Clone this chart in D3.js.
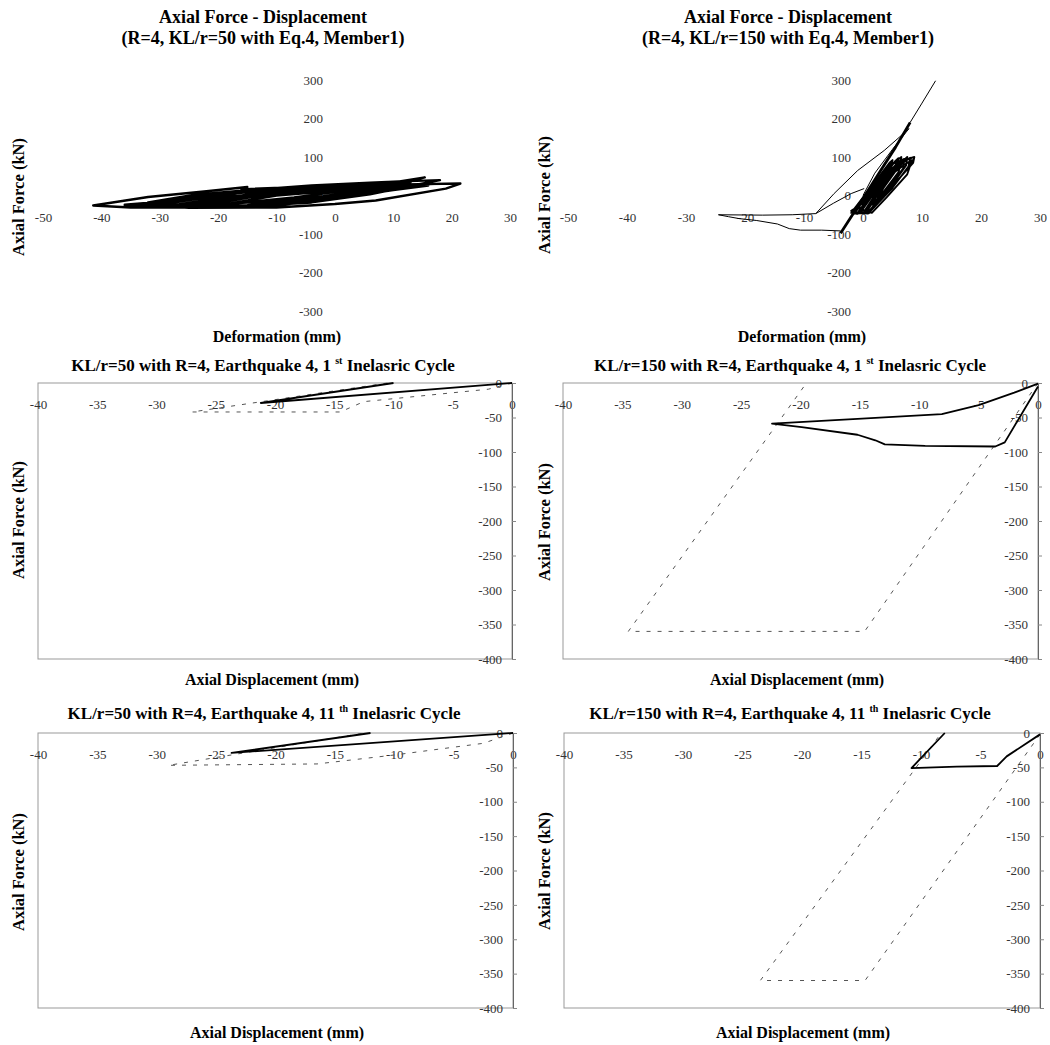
<!DOCTYPE html>
<html>
<head>
<meta charset="utf-8">
<script src="https://cdn.jsdelivr.net/npm/d3@7"></script>
<style>
  body { margin: 0; background: #fff; }
  text { font-family: "Liberation Serif", "Times New Roman", serif; }
</style>
</head>
<body>
<script>
const svgW = 1050;
const svgH = 1045;

// tick labels
const xTicksAll = [-50, -40, -30, -20, -10, 0, 10, 20, 30];
const yTicksAll = [-300, -200, -100, 0, 100, 200, 300];
const xTicksCycle = [-40, -35, -30, -25, -20, -15, -10, -5, 0];
const yTicksCycle = [-400, -350, -300, -250, -200, -150, -100, -50, 0];

// KL/r=50, whole record (deformation mm, force kN)
const kl50Hyst = [
  [0, 0], [-10, -25], [-21.5, -30], [-10, 0], [0, 12], [8, 24],
  [0, -4], [-12, -27], [-24, -31], [-15, -6], [-5, 14], [5, 27], [12, 35],
  [4, 10], [-8, -20], [-20, -30], [-30, -31], [-21, -9], [-10, 11], [0, 24], [10, 34], [15.4, 47],
  [10, 26], [0, 2], [-10, -22], [-22, -31], [-35, -31], [-41.4, -26], [-32, -4], [-22, 11], [-15, 22],
  [-16, 16], [-8, 21], [2, 30], [10, 36], [18, 40],
  [12, 22], [2, 0], [-8, -20], [-18, -30], [-28, -30], [-20, -11], [-10, 7], [0, 19], [12, 29], [21.5, 31],
  [19, 18], [7, -13], [0, -22], [-10, -31], [-25, -32], [-33, -25], [-25, -5], [-15, 10], [-5, 20], [5, 30], [13, 35],
  [5, 12], [-5, -10], [-15, -25], [-26, -30], [-18, -10], [-8, 5], [2, 18], [12, 28], [17, 30],
  [15, 30], [5, 8], [-5, -15], [-15, -28], [-28, -31], [-36, -28], [-28, -10], [-18, 5], [-8, 15], [2, 25], [10, 32],
  [3, 15], [-7, -5], [-17, -20], [-30, -29], [-22, -14], [-12, 0], [-2, 12], [8, 22], [14, 28],
  [6, 3], [-4, -18], [-14, -27], [-24, -30], [-32, -18], [-24, 2], [-14, 15], [-4, 26], [6, 33], [13, 38],
  [8, 20], [-2, -2], [-12, -16], [-22, -24], [-36, -24], [-28, -14], [-18, -2], [-6, 8], [4, 16], [16, 26],
  [10, 14], [0, -8], [-10, -26], [-20, -28], [-30, -24], [-20, 0], [-10, 18], [0, 28], [8, 31]
];

// KL/r=150, whole record
const kl150Outer = [
  [0, 0], [2, 58], [5, 120], [7.8, 174], [6.8, 160], [3.6, 117], [-0.9, 65], [-4.9, 5], [-8, -47],
  [-12, -50], [-17, -51], [-24.5, -50], [-22.8, -55], [-21, -60], [-18, -65], [-14.5, -74],
  [-12.5, -86], [-10.6, -90], [-7, -90], [-3.8, -92]
];
const kl150Inner = [[-8, -47], [-5, -20], [-2, 5], [0.2, 18]];
const kl150Spine = [[-3.8, -98], [0, -8], [3, 65], [5.5, 125], [8, 190]];
const kl150Top = [[8, 190], [10, 240], [12.3, 298]];
const kl150Band = [
  [-2, -45], [1, 15], [4.5, 85], [5, 92], [4.8, 70], [2, 10], [-0.5, -45],
  [-1, -48], [2, 20], [5.5, 90], [6, 97], [5.8, 75], [3, 15], [0.5, -45],
  [-1.5, -47], [1.5, 15], [5, 82], [6.5, 100], [6.3, 80], [3.5, 20], [1, -46],
  [-1, -46], [2.5, 25], [6, 88], [7, 95], [6.8, 70], [4, 15], [0.8, -47],
  [-0.5, -45], [3, 30], [6.5, 85], [7.5, 100], [7.3, 78], [4.5, 18], [0.8, -44],
  [0, -46], [3.5, 35], [7, 88], [8, 98], [7.7, 75], [5, 20], [1, -45],
  [-1.8, -44], [1, 10], [4, 70], [4.5, 80], [8.7, 100], [8.5, 85], [5, 25], [1.2, -42],
  [-2, -45], [1.5, 20], [5, 90], [3, 40], [0, -20], [-2, -40],
  [0, -30], [2.5, 30], [5.5, 75], [6.5, 90], [6, 60], [3, 0], [0, -45],
  [1.5, -20], [4, 45], [7, 80], [8.3, 92], [7.5, 55], [4, -5], [1.5, -45],
  [-0.5, -35], [2, 5], [4.5, 55], [3.5, 60], [1, 0], [-1.5, -40]
];

// single cycles: solid = analysis, dashed = model
const kl50FirstSolid = [[0, 0], [-21.2, -29], [-10, 0]];
const kl50FirstDash = [[0, 0], [-2, -9], [-12.5, -27], [-14.5, -42], [-27, -42], [-10.5, 0]];
const kl150FirstSolid = [
  [0, -1], [-2, -14], [-5, -32], [-8.1, -45], [-15.2, -52], [-22.4, -59], [-19.9, -64],
  [-15.2, -75], [-13.7, -83], [-12.9, -89], [-9.5, -91], [-3.6, -92], [-2.8, -86], [0, -5]
];
const kl150FirstDash = [[0, 0], [-14.6, -360], [-34.5, -360], [-19.5, 0]];
const kl50EleventhSolid = [[0, 0], [-23.7, -29], [-12, 0]];
const kl50EleventhDash = [[0, 0], [-2.5, -15], [-10, -32], [-16.5, -45], [-29, -47], [-12.5, 0]];
const kl150EleventhSolid = [[0, -2], [-2.8, -34], [-3.6, -48], [-7, -49], [-10.8, -51], [-8, 0]];
const kl150EleventhDash = [[0, -2], [-14.7, -360], [-23.5, -360], [-8.3, 0]];

const svg = d3.select('body')
  .append('svg')
  .attr('width', svgW)
  .attr('height', svgH)
  .style('background', '#fff');

const line = (x, y) => d3.line().x(d => x(d[0])).y(d => y(d[1]));
const fmt = d => String(d);

function drawSeries(g, x, y, data, w, dash, color) {
  g.append('path')
    .datum(data)
    .attr('d', line(x, y))
    .attr('fill', 'none')
    .attr('stroke', color || '#000')
    .attr('stroke-width', w)
    .attr('stroke-linejoin', 'round')
    .attr('stroke-dasharray', dash || null);
}

function axisTitles(g, p) {
  g.append('text')
    .attr('x', p.xTitle[0]).attr('y', p.xTitle[1])
    .attr('text-anchor', 'middle')
    .attr('font-size', 16).attr('font-weight', 'bold')
    .text(p.xLabel);
  g.append('text')
    .attr('transform', `translate(${p.yTitle[0]}, ${p.yTitle[1]}) rotate(-90)`)
    .attr('text-anchor', 'middle')
    .attr('font-size', 16.5).attr('font-weight', 'bold')
    .text('Axial Force (kN)');
}

function styleTicks(sel) {
  sel.select('.domain').remove();
  sel.selectAll('text')
    .attr('font-family', '"Liberation Serif", serif')
    .attr('font-size', 13)
    .attr('fill', '#333');
}

// ---------- overview panels (whole record) ----------
function overview(p) {
  const g = svg.append('g');
  const x = d3.scaleLinear().domain([-50, 30]).range(p.xr);
  const y = d3.scaleLinear().domain([-300, 300]).range([311, 80]);

  g.append('g')
    .attr('transform', `translate(0, ${y(0)})`)
    .call(d3.axisBottom(x).tickValues(xTicksAll).tickFormat(fmt).tickSize(0).tickPadding(17))
    .call(styleTicks);
  g.append('g')
    .attr('transform', `translate(${x(0)}, 0)`)
    .call(d3.axisLeft(y).tickValues(yTicksAll).tickFormat(fmt).tickSize(0).tickPadding(12))
    .call(styleTicks);

  g.selectAll('.ttl')
    .data(p.title)
    .enter()
    .append('text')
    .attr('x', p.cx)
    .attr('y', (d, i) => 23 + i * 21)
    .attr('text-anchor', 'middle')
    .attr('font-size', 18)
    .attr('font-weight', 'bold')
    .text(d => d);

  axisTitles(g, p);
  p.series.forEach(s => drawSeries(g, x, y, s.data, s.w, s.dash));
}

overview({
  xr: [43, 510], cx: 263,
  title: ['Axial Force - Displacement', '(R=4, KL/r=50 with Eq.4, Member1)'],
  xLabel: 'Deformation (mm)', xTitle: [277, 342], yTitle: [24, 197],
  series: [{ data: kl50Hyst, w: 2.4 }]
});
overview({
  xr: [568, 1040], cx: 788,
  title: ['Axial Force - Displacement', '(R=4, KL/r=150 with Eq.4, Member1)'],
  xLabel: 'Deformation (mm)', xTitle: [802, 342], yTitle: [550, 195],
  series: [
    { data: kl150Outer, w: 1 },
    { data: kl150Inner, w: 1 },
    { data: kl150Top, w: 1 },
    { data: kl150Band, w: 1.9 },
    { data: kl150Spine, w: 2.8 }
  ]
});

// ---------- single-cycle panels ----------
function cycle(p) {
  const g = svg.append('g');
  const x = d3.scaleLinear().domain([-40, 0]).range(p.xr);
  const y = d3.scaleLinear().domain([-400, 0]).range(p.yr);

  g.append('rect')
    .attr('x', x(-40)).attr('y', y(0))
    .attr('width', x(0) - x(-40)).attr('height', y(-400) - y(0))
    .attr('fill', 'none')
    .attr('stroke', '#999')
    .attr('stroke-width', 1);

  g.append('g')
    .attr('transform', `translate(0, ${y(0)})`)
    .call(d3.axisBottom(x).tickValues(xTicksCycle).tickFormat(fmt).tickSize(0).tickPadding(17))
    .call(styleTicks);
  const ya = g.append('g')
    .attr('transform', `translate(${x(0)}, 0)`)
    .call(d3.axisRight(y).tickValues(yTicksCycle).tickSize(4).tickFormat(''));
  ya.select('.domain').attr('stroke', '#666');
  ya.selectAll('line').attr('stroke', '#888');
  g.append('g')
    .attr('transform', `translate(${x(0)}, 0)`)
    .call(d3.axisLeft(y).tickValues(yTicksCycle).tickFormat(fmt).tickSize(0).tickPadding(10))
    .call(styleTicks);

  const t = g.append('text')
    .attr('x', p.cx).attr('y', p.ty)
    .attr('text-anchor', 'middle')
    .attr('font-size', 17)
    .attr('font-weight', 'bold');
  t.append('tspan').text(p.title[0]);
  t.append('tspan').attr('font-size', 10).attr('dy', -7).text(p.title[1]);
  t.append('tspan').attr('dy', 7).text(p.title[2]);

  axisTitles(g, p);
  drawSeries(g, x, y, p.dash, 1, '4,7', '#555');
  drawSeries(g, x, y, p.solid, 1.8);
}

cycle({
  xr: [38, 512], yr: [659, 383], cx: 263, ty: 371,
  title: ['KL/r=50 with R=4, Earthquake 4, 1 ', 'st', ' Inelasric Cycle'],
  xLabel: 'Axial Displacement (mm)', xTitle: [272, 685], yTitle: [24, 520],
  solid: kl50FirstSolid, dash: kl50FirstDash
});
cycle({
  xr: [563, 1038], yr: [659, 383], cx: 790, ty: 371,
  title: ['KL/r=150 with R=4, Earthquake 4, 1 ', 'st', ' Inelasric Cycle'],
  xLabel: 'Axial Displacement (mm)', xTitle: [797, 685], yTitle: [550, 522],
  solid: kl150FirstSolid, dash: kl150FirstDash
});
cycle({
  xr: [38, 513], yr: [1008, 733], cx: 264, ty: 719,
  title: ['KL/r=50 with R=4, Earthquake 4, 11 ', 'th', ' Inelasric Cycle'],
  xLabel: 'Axial Displacement (mm)', xTitle: [277, 1038], yTitle: [24, 872],
  solid: kl50EleventhSolid, dash: kl50EleventhDash
});
cycle({
  xr: [564, 1040], yr: [1008, 733], cx: 790, ty: 719,
  title: ['KL/r=150 with R=4, Earthquake 4, 11 ', 'th', ' Inelasric Cycle'],
  xLabel: 'Axial Displacement (mm)', xTitle: [803, 1038], yTitle: [550, 871],
  solid: kl150EleventhSolid, dash: kl150EleventhDash
});
</script>
</body>
</html>
